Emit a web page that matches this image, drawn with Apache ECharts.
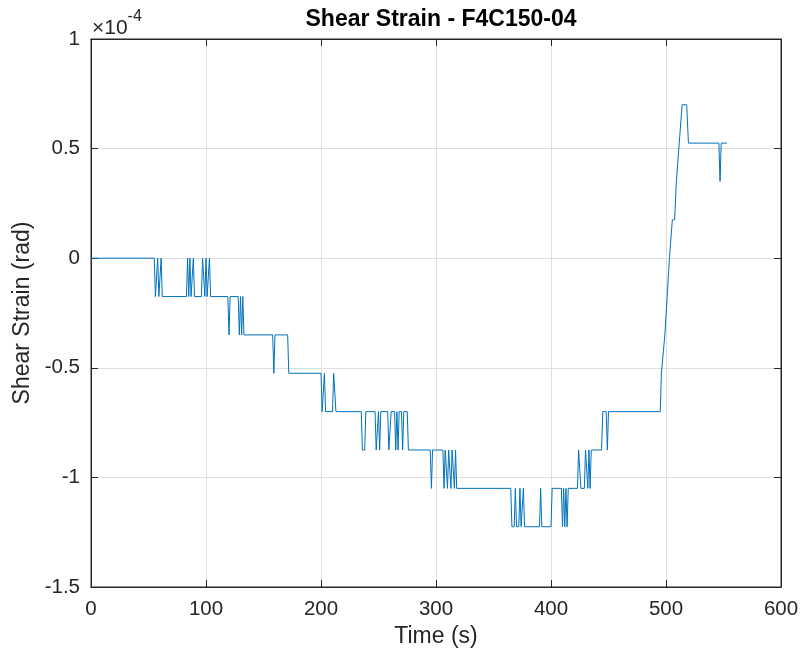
<!DOCTYPE html>
<html>
<head>
<meta charset="utf-8">
<script src="https://cdn.jsdelivr.net/npm/echarts@6/dist/echarts.min.js"></script>
<style>
html,body{margin:0;padding:0;background:#fff;}
#c{width:804px;height:657px;}
</style>
</head>
<body>
<div id="c"></div>
<script>
// Time (s)
const times = [0,55,56,57,58,59,60,61,62,83,84,85,86,87,89,90,96,97,98,99,100,101,103,104,
119,120,121,128,129,130,131,132,133,158,159,160,171,172,
200,201,202,203,204,210,211,212,213,
235,236,238,239,247,248,249,250,251,252,258,259,260,261,264,265,266,267,268,270,271,272,275,276,
295,296,297,306,307,308,310,311,313,314,316,317,318,
365,366,368,369,370,372,373,374,376,377,390,391,392,400,401,
409,410,411,412,413,414,415,423,424,425,426,429,430,431,432,433,434,435,
444,445,448,449,450,
495,496,497,499,500,501,502,503,504,505.5,507.5,509,510,511.5,512.5,514,518,519.5,546,547,548,553];
// Shear strain (x 1e-4 rad)
const strain = [0,0,-0.175,-0.175,0,-0.175,-0.175,0,-0.175,-0.175,0,-0.175,0,-0.175,0,-0.175,-0.175,0,0,-0.175,0,-0.175,0,-0.175,
-0.175,-0.35,-0.175,-0.175,-0.35,-0.175,-0.35,-0.175,-0.35,-0.35,-0.525,-0.35,-0.35,-0.525,
-0.525,-0.7,-0.7,-0.525,-0.7,-0.7,-0.525,-0.525,-0.7,
-0.7,-0.875,-0.875,-0.7,-0.7,-0.875,-0.875,-0.7,-0.875,-0.7,-0.7,-0.875,-0.875,-0.7,-0.7,-0.875,-0.7,-0.875,-0.7,-0.7,-0.875,-0.7,-0.7,-0.875,
-0.875,-1.05,-0.875,-0.875,-1.05,-0.875,-1.05,-0.875,-1.05,-0.875,-1.05,-0.875,-1.05,
-1.05,-1.225,-1.225,-1.05,-1.225,-1.225,-1.05,-1.225,-1.05,-1.225,-1.225,-1.05,-1.225,-1.225,-1.05,
-1.05,-1.225,-1.05,-1.225,-1.05,-1.225,-1.05,-1.05,-0.875,-0.875,-1.05,-1.05,-0.875,-0.875,-1.05,-0.875,-1.05,-0.875,
-0.875,-0.7,-0.7,-0.875,-0.7,
-0.7,-0.525,-0.525,-0.35,-0.35,-0.175,-0.175,0,0,0.175,0.175,0.35,0.35,0.525,0.525,0.7,0.7,0.525,0.525,0.35,0.525,0.525];

const xTicks = [0,100,200,300,400,500,600];
const yTicks = [-1.5,-1,-0.5,0,0.5,1];

const titleText = 'Shear Strain - F4C150-04';
const xLabel = 'Time (s)';
const yLabel = 'Shear Strain (rad)';

const FONT = '"Liberation Sans", Arial, Helvetica, sans-serif';
const AX = '#262626';

const chart = echarts.init(document.getElementById('c'), null, {renderer:'canvas'});
const data = times.map((t,i)=>[t, strain[i]]);

function fmtY(v){
  const r = Math.round(v*10)/10;
  return String(r);
}

chart.setOption({
  animation:false,
  backgroundColor:'#fff',
  title:{
    text:titleText, left:436, top:3, textAlign:'center',
    textStyle:{fontFamily:FONT, fontWeight:'bold', fontSize:23, color:'#000'}
  },
  graphic:[{
    type:'text', left:92, top:9,
    style:{
      text:'{a|×10}{b|-4}',
      rich:{
        a:{fontFamily:FONT, fontSize:21, fill:AX, padding:[9,0,0,0]},
        b:{fontFamily:FONT, fontSize:16, fill:AX, verticalAlign:'top', padding:[0,0,11,0]}
      }
    }
  }],
  grid:{left:91, right:23, top:39, bottom:70, show:true, borderColor:AX, borderWidth:1},
  xAxis:[{
    type:'value', min:0, max:600, interval:100, position:'bottom',
    name:xLabel, nameLocation:'middle', nameGap:36,
    nameTextStyle:{fontFamily:FONT, fontSize:23, color:AX},
    axisLine:{show:true, onZero:false, lineStyle:{color:AX, width:1}},
    axisTick:{show:true, inside:true, length:7, lineStyle:{color:AX}},
    axisLabel:{fontFamily:FONT, fontSize:20.5, color:AX, margin:12},
    splitLine:{show:true, lineStyle:{color:'#dfdfdf', width:1}}
  },{
    type:'value', min:0, max:600, interval:100, position:'top',
    axisLine:{show:true, onZero:false, lineStyle:{color:AX, width:1}},
    axisTick:{show:true, inside:true, length:7, lineStyle:{color:AX}},
    axisLabel:{show:false}, splitLine:{show:false}
  }],
  yAxis:[{
    type:'value', min:-1.5, max:1, interval:0.5, position:'left',
    name:yLabel, nameLocation:'middle', nameGap:56, nameRotate:90,
    nameTextStyle:{fontFamily:FONT, fontSize:23, color:AX},
    axisLine:{show:true, onZero:false, lineStyle:{color:AX, width:1}},
    axisTick:{show:true, inside:true, length:7, lineStyle:{color:AX}},
    axisLabel:{fontFamily:FONT, fontSize:20.5, color:AX, margin:11, formatter:fmtY},
    splitLine:{show:true, lineStyle:{color:'#dfdfdf', width:1}}
  },{
    type:'value', min:-1.5, max:1, interval:0.5, position:'right',
    axisLine:{show:true, onZero:false, lineStyle:{color:AX, width:1}},
    axisTick:{show:true, inside:true, length:7, lineStyle:{color:AX}},
    axisLabel:{show:false}, splitLine:{show:false}
  }],
  series:[{
    type:'line', data:data, xAxisIndex:0, yAxisIndex:0,
    showSymbol:false, symbol:'none',
    lineStyle:{color:'#0072BD', width:1},
    z:3
  }]
});
</script>
</body>
</html>
